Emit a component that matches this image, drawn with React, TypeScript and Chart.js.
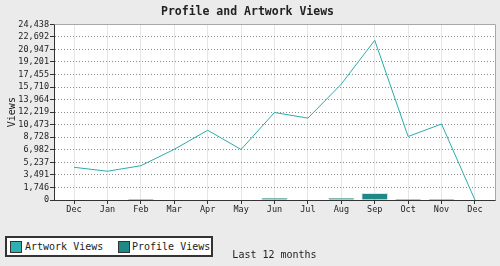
import React, { useEffect, useRef } from "react";
import { Chart, registerables } from "chart.js";

Chart.register(...registerables);

const months = ["Dec", "Jan", "Feb", "Mar", "Apr", "May", "Jun", "Jul", "Aug", "Sep", "Oct", "Nov", "Dec"];
const artworkViews = [4550, 4000, 4770, 7050, 9700, 7030, 12170, 11390, 16120, 22220, 8830, 10570, 0];
const profileViews = [0, 0, 30, 0, 0, 0, 280, 0, 260, 920, 30, 30, 0];
const yMax = 24438;
const yTickLabels = ["0", "1,746", "3,491", "5,237", "6,982", "8,728", "10,473", "12,219", "13,964", "15,710", "17,455", "19,201", "20,947", "22,692", "24,438"];

const FONT = "'DejaVu Sans Mono', 'Liberation Mono', monospace";
const ARTWORK_COLOR = "#2aadab";
const PROFILE_COLOR = "#1e8986";

const plotBg = {
  id: "plotBg",
  beforeDraw(chart: any) {
    const { ctx, chartArea: a } = chart;
    ctx.save();
    ctx.fillStyle = "#ffffff";
    ctx.fillRect(a.left, a.top, a.right - a.left, a.bottom - a.top);
    ctx.restore();
  },
  beforeDatasetsDraw(chart: any) {
    const { ctx, chartArea: a } = chart;
    ctx.save();
    ctx.setLineDash([]);
    ctx.strokeStyle = "#a8a8a8";
    ctx.lineWidth = 1;
    ctx.beginPath();
    ctx.moveTo(Math.round(a.left) + 0.5, Math.round(a.top) + 0.5);
    ctx.lineTo(Math.round(a.right) + 0.5, Math.round(a.top) + 0.5);
    ctx.lineTo(Math.round(a.right) + 0.5, Math.round(a.bottom) + 0.5);
    ctx.stroke();
    ctx.restore();
  },
};

export default function App() {
  const ref = useRef<HTMLCanvasElement | null>(null);

  useEffect(() => {
    if (!ref.current) return;
    const chart = new Chart(ref.current, {
      type: "bar",
      data: {
        datasets: [
          {
            type: "line",
            label: "Artwork Views",
            data: artworkViews.map((v, i) => ({ x: i, y: v })),
            borderColor: ARTWORK_COLOR,
            backgroundColor: ARTWORK_COLOR,
            borderWidth: 1,
            pointRadius: 0,
            tension: 0,
            order: 0,
          } as any,
          {
            type: "bar",
            label: "Profile Views",
            data: profileViews.map((v, i) => ({ x: i, y: v })),
            backgroundColor: PROFILE_COLOR,
            borderColor: "#e4e4e4",
            borderWidth: 1,
            borderSkipped: "start",
            barThickness: 26,
            order: 1,
          } as any,
        ],
      },
      options: {
        animation: false,
        responsive: false,
        devicePixelRatio: 1,
        layout: { padding: { left: 0, right: 5, top: 0, bottom: 0 } },
        plugins: {
          legend: { display: false },
          tooltip: { enabled: false },
          title: {
            display: true,
            text: "Profile and Artwork Views",
            color: "#222",
            font: { family: FONT, size: 11.5, weight: "bold" },
            padding: { top: 5, bottom: 5.5 },
          },
        },
        scales: {
          x: {
            type: "linear",
            min: -0.6,
            max: 12.6,
            offset: false,
            afterBuildTicks: (scale: any) => {
              scale.ticks = months.map((_, i) => ({ value: i }));
            },
            afterFit: (scale: any) => {
              scale.height = 66;
            },
            ticks: {
              autoSkip: false,
              maxRotation: 0,
              color: "#222",
              padding: 1,
              font: { family: FONT, size: 8.5 },
              callback: (v: any) => months[Math.round(v)] ?? "",
            },
            grid: {
              offset: false,
              color: "#e6e6e6",
              lineWidth: 1,
              tickColor: "#333",
              tickLength: 4,
              tickBorderDash: [],
            },
            border: { color: "#333", width: 1, dash: [] },
            title: {
              display: true,
              text: "Last 12 months",
              color: "#222",
              font: { family: FONT, size: 10 },
              padding: { top: 0, bottom: 5 },
            },
          },
          y: {
            type: "linear",
            min: 0,
            max: yMax,
            afterBuildTicks: (scale: any) => {
              scale.ticks = yTickLabels.map((_, i) => ({ value: (yMax * i) / (yTickLabels.length - 1) }));
            },
            afterFit: (scale: any) => {
              scale.width = 54;
            },
            ticks: {
              autoSkip: false,
              color: "#222",
              padding: 1,
              font: { family: FONT, size: 8.5 },
              callback: (_v: any, i: number) => yTickLabels[i],
            },
            grid: {
              color: "#8c8c8c",
              lineWidth: 1,
              tickColor: "#333",
              tickLength: 4,
              tickBorderDash: [],
            },
            border: { color: "#333", width: 1, dash: [1, 2] },
            title: {
              display: true,
              text: "Views",
              color: "#222",
              font: { family: FONT, size: 10 },
              padding: { top: 6, bottom: 0 },
            },
          },
        },
      } as any,
      plugins: [plotBg],
    });
    return () => chart.destroy();
  }, []);

  const swatch = (color: string): React.CSSProperties => ({
    position: "absolute",
    width: 10,
    height: 10,
    background: color,
    border: "1px solid #333",
    top: 3,
  });
  const label: React.CSSProperties = {
    position: "absolute",
    top: 2,
    font: `10px ${FONT}`,
    color: "#222",
    whiteSpace: "nowrap",
    lineHeight: "14px",
  };

  return (
    <div style={{ position: "fixed", left: 0, top: 0, width: 500, height: 266, background: "#ebebeb", overflow: "hidden" }}>
      <canvas ref={ref} width={500} height={266} style={{ position: "absolute", left: 0, top: 0, width: 500, height: 266 }} />
      <div
        style={{
          position: "absolute",
          left: 5,
          top: 236,
          width: 204,
          height: 17,
          background: "#fff",
          border: "2px solid #333",
        }}
      >
        <div style={{ ...swatch("#2eb0b0"), left: 3 }} />
        <div style={{ ...label, left: 18 }}>Artwork Views</div>
        <div style={{ ...swatch(PROFILE_COLOR), left: 111 }} />
        <div style={{ ...label, left: 125 }}>Profile Views</div>
      </div>
    </div>
  );
}
